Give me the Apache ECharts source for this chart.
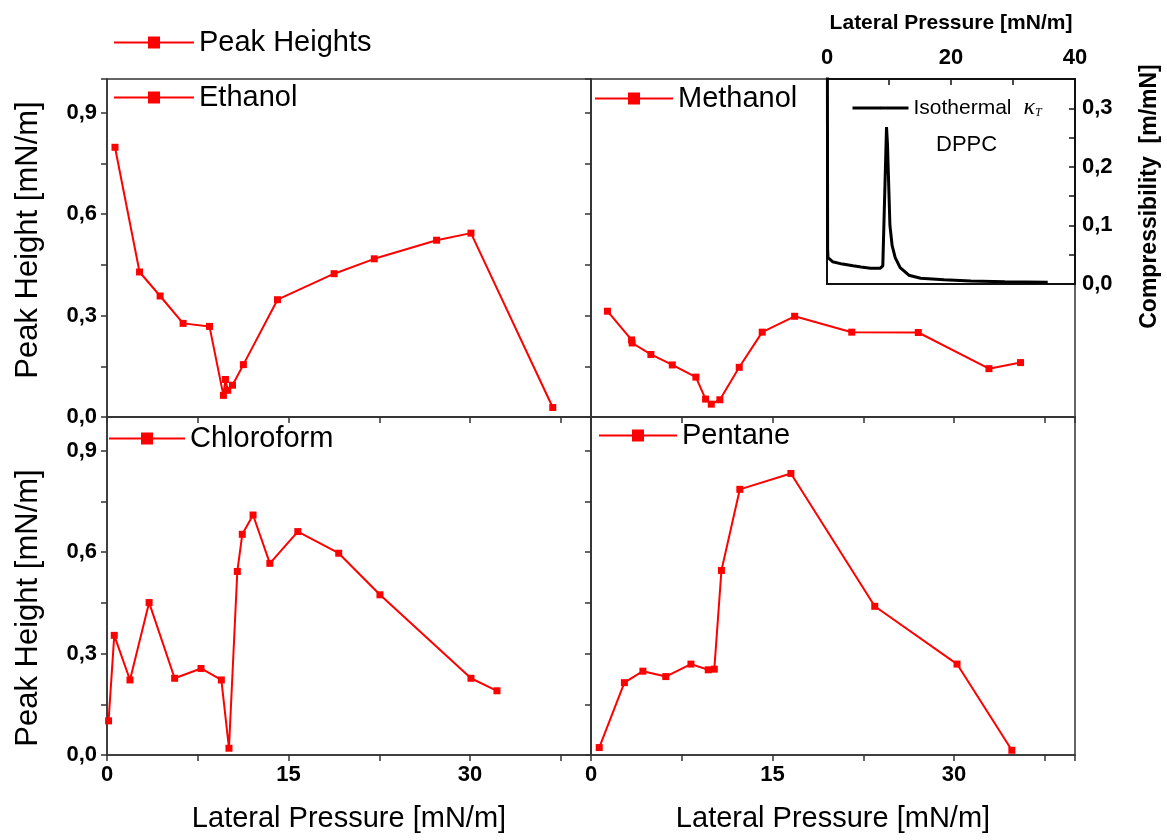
<!DOCTYPE html>
<html>
<head>
<meta charset="utf-8">
<title>Peak Heights</title>
<script src="https://cdn.jsdelivr.net/npm/echarts@6/dist/echarts.min.js"></script>
<style>
html, body { margin: 0; padding: 0; background: #fff; }
#chart { width: 1167px; height: 840px; }
</style>
</head>
<body>
<div id="chart"></div>
<script>
// lateral pressure [mN/m] and peak height [mN/m] for each solvent
var ethanolX = [0.66, 2.69, 4.39, 6.29, 8.47, 9.62, 9.79, 9.98, 10.37, 11.27, 14.09, 18.77, 22.09, 27.24, 30.08, 36.84];
var ethanolY = [0.798, 0.429, 0.358, 0.277, 0.268, 0.064, 0.111, 0.079, 0.094, 0.155, 0.347, 0.424, 0.468, 0.523, 0.544, 0.028];

var methanolX = [1.36, 3.35, 3.40, 4.95, 6.72, 8.67, 9.47, 9.94, 10.65, 12.25, 14.15, 16.83, 21.55, 27.05, 32.89, 35.5];
var methanolY = [0.313, 0.228, 0.219, 0.185, 0.154, 0.118, 0.053, 0.038, 0.051, 0.147, 0.251, 0.298, 0.251, 0.250, 0.143, 0.161];

var chloroformX = [0.13, 0.60, 1.90, 3.48, 5.59, 7.77, 9.45, 10.08, 10.77, 11.18, 12.07, 13.46, 15.77, 19.15, 22.56, 30.08, 32.23];
var chloroformY = [0.101, 0.354, 0.222, 0.451, 0.227, 0.256, 0.222, 0.020, 0.543, 0.653, 0.710, 0.567, 0.661, 0.597, 0.474, 0.227, 0.190];

var pentaneX = [0.68, 2.76, 4.29, 6.18, 8.26, 9.69, 10.19, 10.78, 12.30, 16.52, 23.45, 30.25, 34.78];
var pentaneY = [0.022, 0.214, 0.248, 0.232, 0.269, 0.252, 0.254, 0.546, 0.786, 0.833, 0.440, 0.269, 0.014];

// inset: isothermal compressibility of DPPC [m/mN]
var dppcX = [0.05, 0.1, 0.16, 0.9, 2.5, 4.2, 5.5, 7.0, 8.6, 9.0, 9.6, 9.75, 9.95, 10.15, 10.5, 11.0, 11.8, 13.2, 15.1, 18.9, 23.2, 28.7, 35.6];
var dppcY = [0.5, 0.06, 0.045, 0.038, 0.034, 0.031, 0.029, 0.027, 0.027, 0.031, 0.268, 0.24, 0.17, 0.10, 0.066, 0.045, 0.028, 0.015, 0.0097, 0.0074, 0.0051, 0.004, 0.003];

var FONT = "'Liberation Sans', Arial, sans-serif";
var SERIF = "'Liberation Serif', 'Times New Roman', serif";
var RED = '#ff0000';
var AXIS = '#333';

function pairs(xs, ys) {
  return xs.map(function (x, i) { return [x, ys[i]]; });
}

function comma(v) {
  return v.toFixed(1).replace('.', ',');
}

function xLabel(v) {
  var k = Math.round(v * 10);
  return (k % 150 === 0 && k < 400) ? String(k / 10) : '';
}

function yLabel(v) {
  var k = Math.round(v * 100);
  return (k % 30 === 0 && k < 100) ? comma(k / 100) : '';
}

function mainX(gridIndex, withLabels) {
  return {
    type: 'value', gridIndex: gridIndex, min: 0, max: 40, interval: 7.5,
    axisLine: { show: true, onZero: false, lineStyle: { color: AXIS, width: 1.5 } },
    axisTick: { show: true, inside: false, length: 6, lineStyle: { color: AXIS, width: 1.5 } },
    axisLabel: {
      show: withLabels, margin: 9, color: '#000', fontFamily: FONT,
      fontWeight: 'bold', fontSize: 22, formatter: xLabel
    },
    splitLine: { show: false },
    name: withLabels ? 'Lateral Pressure [mN/m]' : '',
    nameLocation: 'middle', nameGap: 49,
    nameTextStyle: { fontSize: 29, color: '#000', fontFamily: FONT }
  };
}

function mainY(gridIndex, withLabels, namePadding) {
  return {
    type: 'value', gridIndex: gridIndex, min: 0, max: 1.0, interval: 0.15,
    axisLine: { show: true, onZero: false, lineStyle: { color: AXIS, width: 1.5 } },
    axisTick: { show: true, inside: false, length: 6, lineStyle: { color: AXIS, width: 1.5 } },
    axisLabel: {
      show: withLabels, margin: 10, color: '#000', fontFamily: FONT,
      fontWeight: 'bold', fontSize: 22, formatter: yLabel
    },
    splitLine: { show: false },
    name: withLabels ? 'Peak Height [mN/m]' : '',
    nameLocation: 'middle', nameGap: 63,
    nameTextStyle: { fontSize: 31, color: '#000', fontFamily: FONT, padding: namePadding }
  };
}

function solvent(name, idx, xs, ys) {
  return {
    name: name, type: 'line', xAxisIndex: idx, yAxisIndex: idx,
    data: pairs(xs, ys),
    symbol: 'rect', symbolSize: 7, showSymbol: true,
    lineStyle: { color: RED, width: 2 },
    itemStyle: { color: RED },
    animation: false
  };
}

function legendAt(name, left, top, width) {
  return {
    data: [name], left: left, top: top, padding: 0,
    itemWidth: width, itemHeight: 15, selectedMode: false,
    textStyle: { fontSize: 29, lineHeight: 29, color: '#000', fontFamily: FONT }
  };
}

var frame = { show: true, borderColor: AXIS, borderWidth: 1.5 };

var chart = echarts.init(document.getElementById('chart'));
chart.setOption({
  backgroundColor: '#fff',
  animation: false,
  grid: [
    Object.assign({ left: 107, top: 79, width: 484, height: 338 }, frame),
    Object.assign({ left: 591, top: 79, width: 484, height: 338 }, frame),
    Object.assign({ left: 107, top: 417, width: 484, height: 338 }, frame),
    Object.assign({ left: 591, top: 417, width: 484, height: 338 }, frame),
    { show: true, left: 827, top: 79, width: 248, height: 205, borderColor: '#111', borderWidth: 2, backgroundColor: '#fff' }
  ],
  xAxis: [
    mainX(0, false),
    mainX(1, false),
    mainX(2, true),
    mainX(3, true),
    {
      type: 'value', gridIndex: 4, position: 'top', min: 0, max: 40, interval: 10,
      axisLine: { show: true, onZero: false, lineStyle: { color: '#111', width: 2 } },
      axisTick: { show: true, inside: true, length: 6, lineStyle: { color: '#111', width: 1.5 } },
      axisLabel: {
        margin: 10, color: '#000', fontFamily: FONT, fontWeight: 'bold', fontSize: 22,
        formatter: function (v) { var k = Math.round(v); return k % 20 === 0 ? String(k) : ''; }
      },
      splitLine: { show: false },
      name: 'Lateral Pressure [mN/m]', nameLocation: 'middle', nameGap: 45,
      nameTextStyle: { fontSize: 21, fontWeight: 'bold', color: '#000', fontFamily: FONT }
    }
  ],
  yAxis: [
    mainY(0, true, [0, 0, 0, 16]),
    mainY(1, false, 0),
    mainY(2, true, [0, 44, 0, 0]),
    mainY(3, false, 0),
    {
      type: 'value', gridIndex: 4, position: 'right', min: 0, max: 0.35, interval: 0.05,
      axisLine: { show: true, onZero: false, lineStyle: { color: '#111', width: 2 } },
      axisTick: { show: true, inside: true, length: 6, lineStyle: { color: '#111', width: 1.5 } },
      axisLabel: {
        margin: 7, color: '#000', fontFamily: FONT, fontWeight: 'bold', fontSize: 22,
        formatter: function (v) {
          var k = Math.round(v * 100);
          return (k % 10 === 0 && k <= 30) ? comma(k / 100) : '';
        }
      },
      splitLine: { show: false },
      name: 'Compressibility  [m/mN]', nameLocation: 'middle', nameGap: 63, nameRotate: 90,
      nameTextStyle: { fontSize: 23, fontWeight: 'bold', color: '#000', fontFamily: FONT, padding: [0, 30, 0, 0] }
    }
  ],
  legend: [
    legendAt('Peak Heights', 113, 28, 80),
    legendAt('Ethanol', 113, 83, 80),
    legendAt('Methanol', 594, 84, 78),
    legendAt('Chloroform', 108, 424, 76),
    legendAt('Pentane', 598, 421, 78),
    {
      data: ['Isothermal'], left: 851, top: 96, padding: 0,
      itemWidth: 56, itemHeight: 3, selectedMode: false,
      lineStyle: { color: '#000', width: 3 },
      formatter: function () { return '{a|Isothermal}{k|κ}{t|T}'; },
      textStyle: {
        color: '#000', fontFamily: FONT,
        rich: {
          a: { fontSize: 21, lineHeight: 22, fontFamily: FONT, fontWeight: 'normal' },
          k: { fontSize: 24, lineHeight: 22, fontStyle: 'italic', fontWeight: 'normal', fontFamily: SERIF, padding: [0, 0, 0, 12] },
          t: { fontSize: 12, lineHeight: 12, fontStyle: 'italic', fontWeight: 'normal', verticalAlign: 'bottom', fontFamily: SERIF, padding: [6, 0, 0, 0] }
        }
      }
    }
  ],
  graphic: [
    { type: 'text', left: 936, top: 134, style: { text: 'DPPC', fontSize: 22, fontFamily: FONT, fill: '#000' } }
  ],
  series: [
    // legend-only entry for the whole figure
    { name: 'Peak Heights', type: 'line', xAxisIndex: 0, yAxisIndex: 0, data: [],
      symbol: 'rect', lineStyle: { color: RED, width: 2 }, itemStyle: { color: RED } },
    solvent('Ethanol', 0, ethanolX, ethanolY),
    solvent('Methanol', 1, methanolX, methanolY),
    solvent('Chloroform', 2, chloroformX, chloroformY),
    solvent('Pentane', 3, pentaneX, pentaneY),
    {
      name: 'Isothermal', type: 'line', xAxisIndex: 4, yAxisIndex: 4,
      data: pairs(dppcX, dppcY), symbol: 'none', clip: true,
      lineStyle: { color: '#000', width: 3 }, itemStyle: { color: '#000' }
    }
  ]
});
</script>
</body>
</html>
